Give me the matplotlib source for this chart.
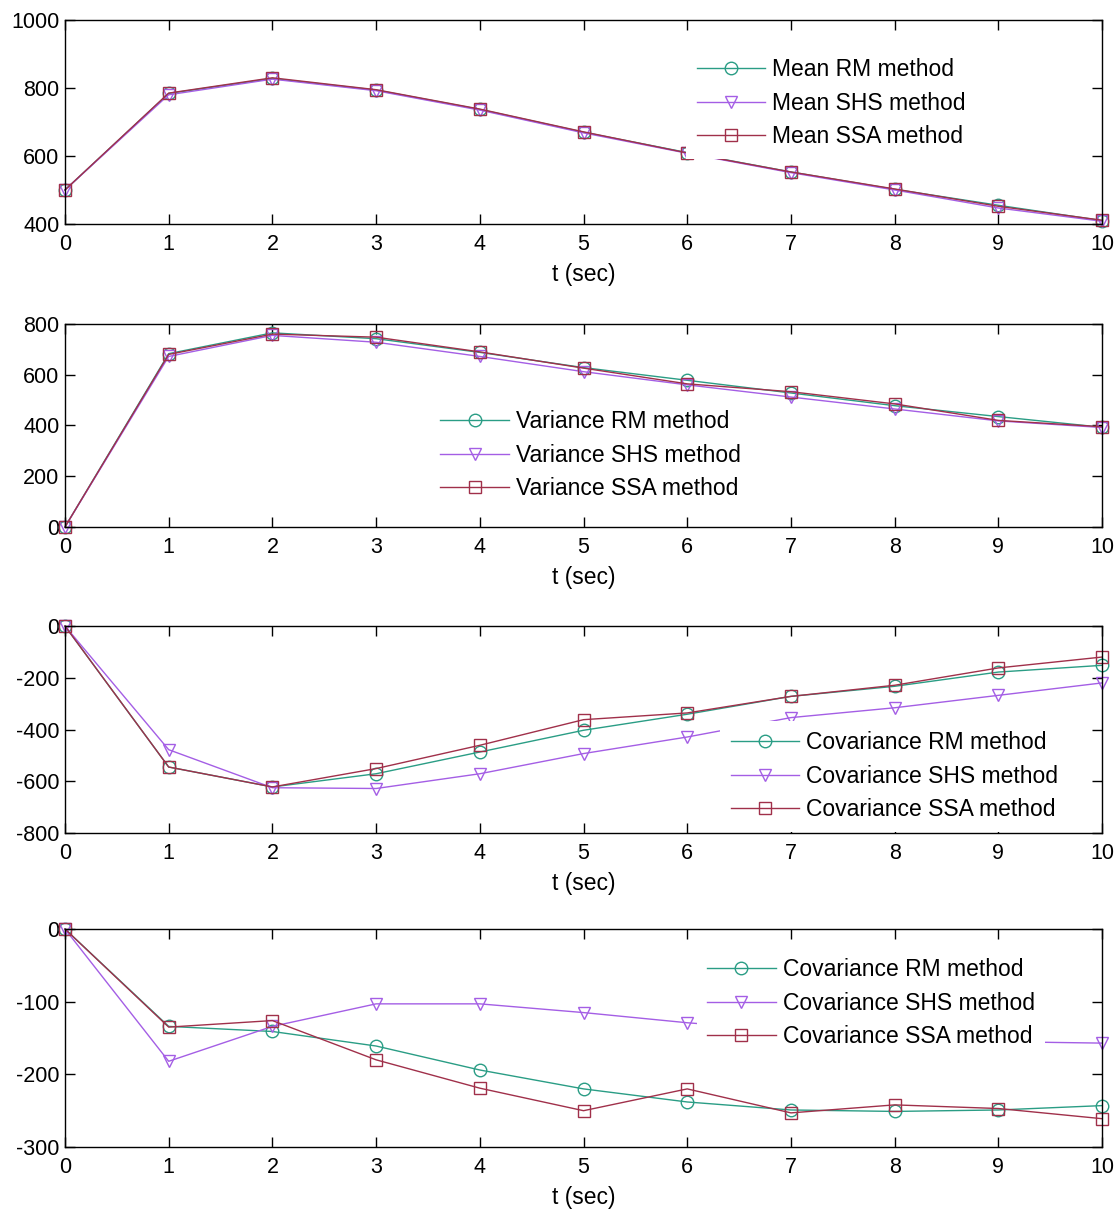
import matplotlib
matplotlib.use("Agg")
import matplotlib.pyplot as plt

plt.rcParams['font.family'] = ['Liberation Sans', 'DejaVu Sans']
plt.rcParams['axes.unicode_minus'] = False

t = [0, 1, 2, 3, 4, 5, 6, 7, 8, 9, 10]

# Mean
mean_rm = [500, 784, 828, 794, 737, 670, 610, 553, 502, 455, 410]
mean_shs = [500, 780, 826, 792, 735, 668, 608, 551, 500, 447, 408]
mean_ssa = [500, 785, 830, 795, 738, 671, 609, 553, 503, 452, 411]

# Variance
var_rm = [0, 683, 765, 742, 688, 628, 578, 528, 478, 435, 393]
var_shs = [0, 672, 755, 728, 672, 612, 560, 512, 465, 418, 392]
var_ssa = [0, 680, 760, 748, 690, 626, 564, 533, 485, 420, 395]

# Covariance (panel 3)
cov1_rm = [0, -545, -622, -571, -487, -403, -341, -272, -233, -178, -152]
cov1_shs = [0, -478, -625, -628, -571, -493, -429, -354, -316, -268, -220]
cov1_ssa = [0, -545, -622, -551, -461, -362, -336, -272, -229, -162, -120]

# Covariance (panel 4)
cov2_rm = [0, -134, -141, -161, -194, -220, -238, -249, -251, -249, -243]
cov2_shs = [0, -182, -134, -103, -103, -115, -129, -140, -148, -155, -157]
cov2_ssa = [0, -135, -126, -180, -219, -250, -220, -253, -242, -247, -261]

c_rm = '#2a9d85'
c_shs = '#a45ee5'
c_ssa = '#a0304a'

panels = [
    ('Mean', mean_rm, mean_shs, mean_ssa, (400, 1000), [400, 600, 800, 1000],
     [0.058, 0.8152, 0.926, 0.1683], (0.599, 0.863)),
    ('Variance', var_rm, var_shs, var_ssa, (0, 800), [0, 200, 400, 600, 800],
     [0.058, 0.5652, 0.926, 0.1675], (0.352, 0.626)),
    ('Covariance', cov1_rm, cov1_shs, cov1_ssa, (-800, 0), [-800, -600, -400, -200, 0],
     [0.058, 0.3127, 0.926, 0.1708], (0.632, 0.541)),
    ('Covariance', cov2_rm, cov2_shs, cov2_ssa, (-300, 0), [-300, -200, -100, 0],
     [0.058, 0.0536, 0.926, 0.1799], (0.609, 0.913)),
]

fig = plt.figure(figsize=(11.2, 12.12), dpi=100)
fs = 15.5
lfs = 16.5

for name, rm, shs, ssa, ylim, yticks, pos, lpos in panels:
    ax = fig.add_axes(pos)
    kw = dict(lw=1.0, ms=9, mfc='none', mew=1.0, clip_on=False)
    ax.plot(t, rm, marker='o', color=c_rm, label=name + ' RM method', **kw)
    ax.plot(t, shs, marker='v', color=c_shs, label=name + ' SHS method', **kw)
    ax.plot(t, ssa, marker='s', color=c_ssa, label=name + ' SSA method', **kw)
    ax.set_xlim(0, 10)
    ax.set_ylim(*ylim)
    ax.set_xticks(t)
    ax.set_yticks(yticks)
    ax.tick_params(direction='in', length=7, width=1, top=True, right=True,
                   labelsize=fs, pad=4)
    ax.tick_params(axis='x', pad=7)
    for sp in ax.spines.values():
        sp.set_linewidth(1.0)
    ax.set_xlabel('t (sec)', fontsize=lfs, labelpad=6)
    ax.legend(loc='upper left', bbox_to_anchor=lpos, fontsize=lfs,
              frameon=True, fancybox=False, framealpha=1, edgecolor='none',
              facecolor='white', borderpad=0.45, borderaxespad=0,
              handlelength=3.0, handletextpad=0.3, labelspacing=0.46)

fig.savefig('out.png', dpi=100)
